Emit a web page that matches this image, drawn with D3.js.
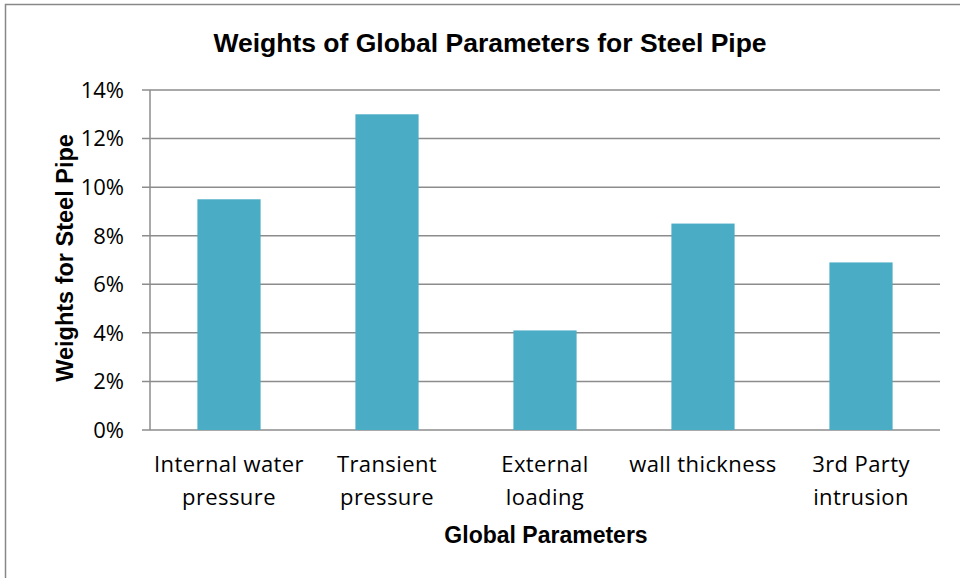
<!DOCTYPE html>
<html><head><meta charset="utf-8">
<script src="https://cdn.jsdelivr.net/npm/d3@7"></script>
<style>body{margin:0;background:#fff}</style>
</head><body>
<svg id="c" width="960" height="578"></svg>
<script>
const categories = [["Internal water","pressure"],["Transient","pressure"],["External","loading"],["wall thickness"],["3rd Party","intrusion"]];
const values = [0.095, 0.130, 0.041, 0.085, 0.069];
const yTicks = [0,0.02,0.04,0.06,0.08,0.10,0.12,0.14];
const title = "Weights of Global Parameters for Steel Pipe";
const xTitle = "Global Parameters";
const yTitle = "Weights for Steel Pipe";

(function(){
const svg = d3.select("#c");
svg.append("rect").attr("x",5.5).attr("y",4.5).attr("width",980).attr("height",600)
  .attr("fill","none").attr("stroke","#888").attr("stroke-width",1.5);

const pL=150, pR=940, pT=90, pB=430;
const x = d3.scaleBand().domain(d3.range(values.length)).range([pL,pR]).paddingInner(0.6).paddingOuter(0.3);
const y = d3.scaleLinear().domain([0,0.14]).range([pB,pT]);
const tickFont = "'Open Sans', Lato, sans-serif";
const boldFont = "'Liberation Sans', Arial, sans-serif";

svg.append("g").selectAll("line").data(yTicks).join("line")
  .attr("x1",pL-8).attr("x2",pR).attr("y1",d=>y(d)).attr("y2",d=>y(d))
  .attr("stroke","#8c8c8c").attr("stroke-width",1.5);
svg.append("line").attr("x1",pL).attr("x2",pL).attr("y1",pT).attr("y2",pB)
  .attr("stroke","#8c8c8c").attr("stroke-width",1.5);

svg.append("g").selectAll("text").data(yTicks).join("text")
  .attr("x",124).attr("y",d=>y(d)).attr("dy","0.36em").attr("text-anchor","end")
  .attr("font-family",tickFont).attr("font-size",22).attr("fill","#000")
  .text(d=>d3.format(".0%")(d));

svg.append("g").selectAll("rect").data(values).join("rect")
  .attr("x",(d,i)=>x(i)).attr("width",x.bandwidth()).attr("y",d=>y(d)).attr("height",d=>pB-y(d))
  .attr("fill","#4BACC6");

const cl = svg.append("g").selectAll("text").data(categories).join("text")
  .attr("text-anchor","middle").attr("font-family",tickFont).attr("font-size",22)
  .attr("letter-spacing","0.4px").attr("fill","#000");
cl.each(function(d,i){
  const t=d3.select(this);
  d.forEach((line,j)=>t.append("tspan").attr("x",x(i)+x.bandwidth()/2).attr("y",472+j*33).text(line));
});

svg.append("text").attr("x",490).attr("y",52).attr("text-anchor","middle")
  .attr("font-family",boldFont).attr("font-weight","bold").attr("font-size",26.5).text(title);
svg.append("text").attr("x",546).attr("y",543).attr("text-anchor","middle")
  .attr("font-family",boldFont).attr("font-weight","bold").attr("font-size",23).text(xTitle);
svg.append("text").attr("transform","translate(73,258) rotate(-90)").attr("text-anchor","middle")
  .attr("font-family",boldFont).attr("font-weight","bold").attr("font-size",23.5).text(yTitle);
})();
</script>
</body></html>
